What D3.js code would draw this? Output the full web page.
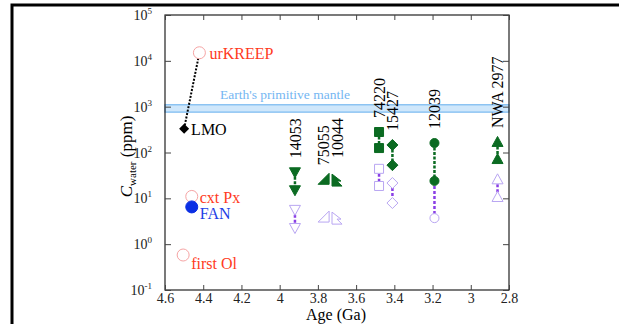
<!DOCTYPE html>
<meta charset="utf-8">
<html>
<head>
    <script src="https://d3js.org/d3.v7.min.js"></script>
    <style>
        body { margin: 0; background: white; }
    </style>
</head>
<body>
<script>
    // model points (early Moon)
    const modelNames = ["urKREEP", "LMO", "cxt Px", "FAN", "first Ol"];
    const modelAges = [4.42, 4.50, 4.46, 4.46, 4.505];
    const modelValues = [15000, 330, 11, 6.5, 0.58];

    // Earth's primitive mantle band
    const mantleBand = [760, 1100];

    // samples: green = upper estimate pair, purple = lower estimate pair
    const sampleNames = ["14053", "75055", "10044", "74220", "15427", "12039", "NWA 2977"];
    const sampleAges = [3.92, 3.77, 3.70, 3.48, 3.41, 3.19, 2.86];
    const greenHigh = [37, 26, 25, 280, 146, 161, 170];
    const greenLow = [15, null, null, 125, 53, 24, 72];
    const purpleHigh = [5.6, 3.9, 3.7, 44, 21.6, null, 26];
    const purpleLow = [2.25, null, null, 18.6, 7.9, 3.7, 10.7];
    const sampleShapes = ["down", "corner", "flag", "square", "diamond", "circle", "up"];

    const xTicks = [4.6, 4.4, 4.2, 4, 3.8, 3.6, 3.4, 3.2, 3, 2.8];
    const yExps = [-1, 0, 1, 2, 3, 4, 5];

    const width = 619, height = 324;
    const margin = { left: 165, right: 509, top: 15, bottom: 290 };
    const serif = "'Liberation Serif', 'Times New Roman', Times, serif";

    const svg = d3.select("body").append("svg")
        .attr("width", width)
        .attr("height", height)
        .style("font-family", serif);

    const x = d3.scaleLinear().domain([4.6, 2.8]).range([margin.left, margin.right]);
    const y = d3.scaleLog().domain([0.1, 1e5]).range([margin.bottom, margin.top]);

    // outer page frame
    svg.append("path")
        .attr("d", `M12,${height} L12,5 L${width},5`)
        .attr("fill", "none")
        .attr("stroke", "black")
        .attr("stroke-width", 3);

    // mantle band
    svg.append("rect")
        .attr("x", margin.left)
        .attr("y", y(mantleBand[1]))
        .attr("width", margin.right - margin.left)
        .attr("height", y(mantleBand[0]) - y(mantleBand[1]))
        .attr("fill", "#cfe7fb")
        .attr("stroke", "#78b9f0")
        .attr("stroke-width", 1.2);
    svg.append("text")
        .attr("x", 220).attr("y", y(mantleBand[1]) - 6)
        .style("font-size", "13.5px")
        .attr("fill", "#74b6f2")
        .text("Earth's primitive mantle");

    // axes frame
    svg.append("rect")
        .attr("x", margin.left).attr("y", margin.top)
        .attr("width", margin.right - margin.left).attr("height", margin.bottom - margin.top)
        .attr("fill", "none").attr("stroke", "#222").attr("stroke-width", 1.2);

    const gx = svg.append("g").attr("transform", `translate(0,${margin.bottom})`)
        .call(d3.axisBottom(x).tickValues(xTicks).tickSize(-5).tickPadding(3).tickFormat(d3.format("")));
    svg.append("g").attr("transform", `translate(0,${margin.top})`)
        .call(d3.axisTop(x).tickValues(xTicks).tickSize(-5).tickFormat(""));
    svg.append("g").attr("transform", `translate(${margin.left},0)`)
        .call(d3.axisLeft(y).tickValues(yExps.map(e => Math.pow(10, e))).tickSize(-6).tickFormat(""));
    svg.append("g").attr("transform", `translate(${margin.right},0)`)
        .call(d3.axisRight(y).tickValues(yExps.map(e => Math.pow(10, e))).tickSize(-6).tickFormat(""));
    svg.selectAll(".domain").remove();
    svg.selectAll(".tick line").attr("stroke", "#444").attr("stroke-width", 1);
    gx.selectAll(".tick text")
        .style("font-size", "14px")
        .attr("fill", "#222");

    // y tick labels 10^n
    const yl = svg.append("g");
    yExps.forEach(e => {
        const t = yl.append("text")
            .attr("x", 152).attr("y", y(Math.pow(10, e)) + 5)
            .attr("text-anchor", "end")
            .style("font-size", "14px")
            .attr("fill", "#222");
        t.append("tspan").text("10");
        t.append("tspan").attr("dy", -6).style("font-size", "9px").text(e);
    });

    // axis titles
    svg.append("text")
        .attr("x", (margin.left + margin.right) / 2 - 1).attr("y", 320)
        .attr("text-anchor", "middle")
        .style("font-size", "16px")
        .text("Age (Ga)");
    const yt = svg.append("text")
        .attr("transform", `translate(132,${(margin.top + margin.bottom) / 2 + 4}) rotate(-90)`)
        .attr("text-anchor", "middle")
        .style("font-size", "17px");
    yt.append("tspan").style("font-style", "italic").text("C");
    yt.append("tspan").attr("dy", 4).style("font-size", "11px").text("water");
    yt.append("tspan").attr("dy", -4).text(" (ppm)");

    // LMO -> urKREEP dotted line
    svg.append("line")
        .attr("x1", x(modelAges[1])).attr("y1", y(modelValues[1]))
        .attr("x2", x(modelAges[0])).attr("y2", y(modelValues[0]))
        .attr("stroke", "black").attr("stroke-width", 2)
        .attr("stroke-dasharray", "2,1.5");

    const red = "#ff3a22", pale = "#f6a4a4";
    const modelStyle = [
        { sym: "circle", fill: "white", stroke: pale, color: red, dx: 10, dy: 6 },
        { sym: "diamond", fill: "black", stroke: "black", color: "black", dx: 7, dy: 6 },
        { sym: "circle", fill: "white", stroke: pale, color: red, dx: 8, dy: 7 },
        { sym: "dot", fill: "#0b2fe4", stroke: "#0b2fe4", color: "#1f3fe6", dx: 8, dy: 12 },
        { sym: "circle", fill: "white", stroke: pale, color: red, dx: 8, dy: 14 }
    ];

    const diamondPath = s => `M0,${-s} L${s},0 L0,${s} L${-s},0 Z`;

    modelNames.forEach((n, i) => {
        const cx = x(modelAges[i]), cy = y(modelValues[i]), st = modelStyle[i];
        if (st.sym === "diamond") {
            svg.append("path").attr("transform", `translate(${cx},${cy})`)
                .attr("d", diamondPath(5)).attr("fill", "black");
        } else {
            svg.append("circle").attr("cx", cx).attr("cy", cy)
                .attr("r", 6)
                .attr("fill", st.fill).attr("stroke", st.stroke).attr("stroke-width", 1);
        }
        svg.append("text")
            .attr("x", cx + st.dx).attr("y", cy + st.dy)
            .style("font-size", "16px")
            .attr("fill", st.color)
            .text(n);
    });

    // sample markers
    const green = "#0b6b22", purpleLine = "#8a3fe6", purpleMark = "#b9a6f2";

    function shapePath(kind) {
        switch (kind) {
            case "down": return "M-5.5,-4.5 L5.5,-4.5 L0,5.5 Z";
            case "up": return "M-5.5,4.5 L5.5,4.5 L0,-5.5 Z";
            case "corner": return "M-5.5,5 L5.5,5 L5.5,-6 Z";
            case "flag": return "M-5,-6 L4,1 L0,1 L5,6 L-5,6 Z";
            case "square": return "M-4.5,-4.5 L4.5,-4.5 L4.5,4.5 L-4.5,4.5 Z";
            case "diamond": return diamondPath(5.5);
            default: return d3.symbol(d3.symbolCircle, 64)();
        }
    }

    function mark(kind, cx, cy, filled) {
        svg.append("path")
            .attr("transform", `translate(${cx},${cy})`)
            .attr("d", shapePath(kind))
            .attr("fill", filled ? green : "white")
            .attr("stroke", filled ? green : purpleMark)
            .attr("stroke-width", 1);
    }

    sampleNames.forEach((n, i) => {
        const cx = x(sampleAges[i]);
        const gTop = greenHigh[i], gBot = greenLow[i] || greenHigh[i];
        const pTop = purpleHigh[i], pBot = purpleLow[i] || purpleHigh[i];
        // purple segment (from green when no purple upper)
        const pStart = pTop == null ? gBot : pTop;
        if (pStart != null && pBot != null && pStart !== pBot) {
            svg.append("line")
                .attr("x1", cx).attr("x2", cx)
                .attr("y1", y(pStart)).attr("y2", y(pBot))
                .attr("stroke", purpleLine).attr("stroke-width", 2.5)
                .attr("stroke-dasharray", "3,2");
        }
        if (greenLow[i] != null) {
            svg.append("line")
                .attr("x1", cx).attr("x2", cx)
                .attr("y1", y(gTop)).attr("y2", y(gBot))
                .attr("stroke", green).attr("stroke-width", 2.5)
                .attr("stroke-dasharray", "3,1.5");
        }
        [purpleHigh[i], purpleLow[i]].forEach(v => { if (v != null) mark(sampleShapes[i], cx, y(v), false); });
        [greenHigh[i], greenLow[i]].forEach(v => { if (v != null) mark(sampleShapes[i], cx, y(v), true); });

        const lift = n === "10044" ? 22 : 14;
        svg.append("text")
            .attr("transform", `translate(${cx},${y(gTop) - lift}) rotate(-90)`)
            .attr("dy", "0.35em")
            .style("font-size", "16px")
            .attr("fill", "black")
            .text(n);
    });

    // d3 axes set their own font; force serif everywhere
    svg.selectAll("text").style("font-family", serif);
    svg.selectAll("g").attr("font-family", null);
</script>
</body>
</html>
